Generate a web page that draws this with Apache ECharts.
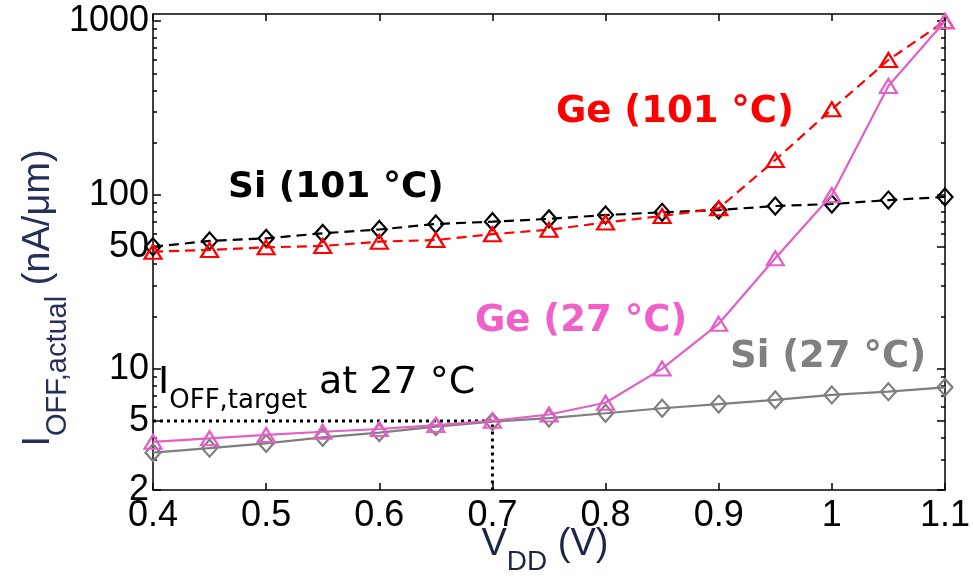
<!DOCTYPE html>
<html><head><meta charset="utf-8">
<script src="https://cdn.jsdelivr.net/npm/echarts@6/dist/echarts.min.js"></script>
<style>html,body{margin:0;padding:0;background:#fff}#c{width:973px;height:577px}</style>
</head><body><div id="c"></div>
<script>
// ---- data ----
const vdd = [0.4,0.45,0.5,0.55,0.6,0.65,0.7,0.75,0.8,0.85,0.9,0.95,1.0,1.05,1.1];
const siHot  = [50.3,54.3,56.2,60.1,63.2,68,70.1,72.8,76.6,79.4,81.8,86.3,88.6,93.4,97.3];
const geHot  = [47.1,48.2,49.9,50.8,53.8,55,59.4,63,69.4,75.6,83.7,158.8,311,598,1000];
const geRoom = [3.79,3.97,4.15,4.33,4.49,4.73,5.01,5.44,6.36,10.0,18.1,43.2,99.8,424,1000];
const siRoom = [3.28,3.48,3.71,4.02,4.28,4.63,4.95,5.19,5.53,5.91,6.25,6.6,7.05,7.36,7.80];
const targetX = [0.4,0.7,0.7];
const targetY = [5,5,2];
const yTickLabels = [2,5,10,50,100,1000];
const yMinorTicks = [3,4,6,7,8,9,20,30,40,60,70,80,90,200,300,400,500,600,700,800,900];
const xMin = 0.4, xMax = 1.1, xStep = 0.1;
const yMin = 2, yMax = 1100;

const pair = (xs, ys) => xs.map((x, i) => [x, ys[i]]);
const tickFont = '"Liberation Sans Narrow","Arial Narrow","Liberation Sans",Arial,sans-serif';
const boldFont = '"DejaVu Sans","Verdana",sans-serif';

const chart = echarts.init(document.getElementById('c'), null, {renderer:'canvas'});

function xAx(pos, showLabel){
  return {
    type:'value', position:pos, min:xMin, max:xMax, interval:xStep,
    axisLine:{show:true, onZero:false, lineStyle:{color:'#000', width:1.5}},
    axisTick:{show:true, inside:true, length:7, lineStyle:{color:'#000', width:1.5}},
    axisLabel:{show:showLabel, fontFamily:tickFont, fontSize:36, color:'#000', margin:8,
      formatter: v => String(+(+v).toFixed(2))},
    splitLine:{show:false}
  };
}
function yAx(pos, values, len, showLine, showLabel){
  return {
    type:'log', logBase:10, position:pos, min:yMin, max:yMax,
    axisLine:{show:showLine, lineStyle:{color:'#000', width:1.5}},
    axisTick:{show:true, inside:true, length:len, customValues:values, lineStyle:{color:'#000', width:1.5}},
    axisLabel:{show:showLabel, customValues:values, fontFamily:tickFont, fontSize:36, color:'#000', margin:4,
      formatter: v => String(v)},
    splitLine:{show:false}, minorTick:{show:false}
  };
}

function lineSeries(name, ys, color, dashed, symbol, size, z){
  return {
    name, type:'line', xAxisIndex:0, yAxisIndex:0, data:pair(vdd, ys), z,
    symbol, symbolSize:size, showSymbol:true,
    lineStyle:{color, width:2.2, type: dashed ? [10,6] : 'solid'},
    itemStyle:{color:'rgba(255,255,255,0)', borderColor:color, borderWidth:2.2},
    emphasis:{disabled:true}, animation:false
  };
}

chart.setOption({
  animation:false,
  backgroundColor:'#fff',
  grid:{left:153, right:26, top:14, bottom:87, containLabel:false},
  xAxis:[xAx('bottom', true), xAx('top', false)],
  yAxis:[
    yAx('left', yTickLabels, 8, true, true),
    yAx('left', yMinorTicks, 4, false, false),
    yAx('right', yTickLabels, 8, true, false),
    yAx('right', yMinorTicks, 4, false, false)
  ],
  series:[
    {type:'line', data:pair(targetX, targetY), symbol:'none', z:1,
     lineStyle:{color:'#000', width:3, type:[3,4]}, animation:false},
    lineSeries('Si (101 °C)', siHot, '#000000', true, 'diamond', [15,17], 3),
    lineSeries('Si (27 °C)', siRoom, '#7f7f7f', false, 'diamond', [15,17], 3),
    lineSeries('Ge (101 °C)', geHot, '#ff0000', true, 'triangle', [17,14], 4),
    lineSeries('Ge (27 °C)', geRoom, '#e35fc6', false, 'triangle', [17,14], 5)
  ],
  graphic:[
    {type:'text', x:228, y:188, style:{text:'Si (101 °C)', font:'bold 36px '+boldFont, fill:'#000', verticalAlign:'middle'}},
    {type:'text', x:556, y:112, style:{text:'Ge (101 °C)', font:'bold 37px '+boldFont, fill:'#ff0000', verticalAlign:'middle'}},
    {type:'text', x:475, y:321, style:{text:'Ge (27 °C)', font:'bold 37px '+boldFont, fill:'#f060c8', verticalAlign:'middle'}},
    {type:'text', x:730, y:357, style:{text:'Si (27 °C)', font:'bold 37px '+boldFont, fill:'#808080', verticalAlign:'middle'}},
    {type:'text', x:158, y:364, style:{
      text:'{m|I}{s|OFF,target}{m| at 27 °C}',
      rich:{
        m:{fontFamily:boldFont, fontSize:38, fill:'#000', lineHeight:50, verticalAlign:'top'},
        s:{fontFamily:boldFont, fontSize:26, fill:'#000', lineHeight:26, verticalAlign:'bottom'}
      }}},
    {type:'text', x:46, y:298, rotation:Math.PI/2, style:{
      text:'{m|I}{s|OFF,actual}{m| (nA/μm)}', align:'center', verticalAlign:'middle',
      rich:{
        m:{fontFamily:'"Liberation Sans",Arial,sans-serif', fontSize:38, fill:'#25305a', lineHeight:52, verticalAlign:'top'},
        s:{fontFamily:'"Liberation Sans",Arial,sans-serif', fontSize:29, fill:'#25305a', lineHeight:29, verticalAlign:'bottom'}
      }}},
    {type:'text', x:545, y:551, style:{
      text:'{m|V}{s|DD}{m| (V)}', align:'center', verticalAlign:'middle',
      rich:{
        m:{fontFamily:tickFont, fontSize:38, fill:'#1c2545', lineHeight:50, verticalAlign:'top'},
        s:{fontFamily:tickFont, fontSize:28, fill:'#1c2545', lineHeight:28, verticalAlign:'bottom'}
      }}}
  ]
});
</script>
</body></html>
